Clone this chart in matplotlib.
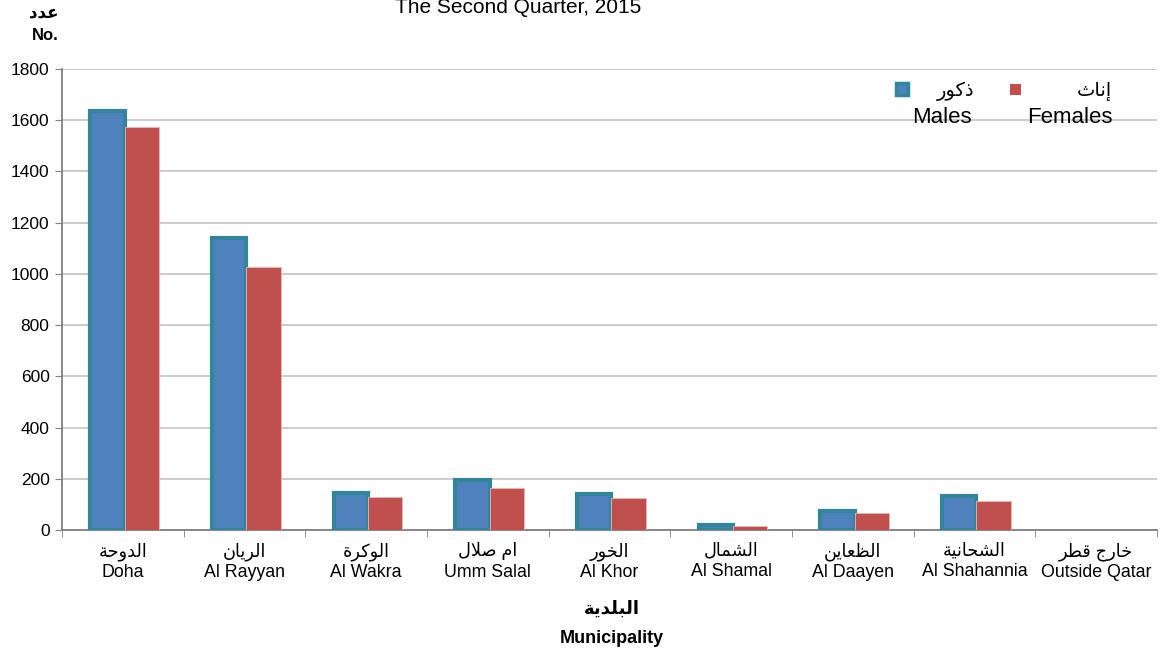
import matplotlib
matplotlib.use('Agg')
import matplotlib.pyplot as plt
from matplotlib.patches import Rectangle
import numpy as np

# data
areas_ar = ['الدوحة', 'الريان', 'الوكرة', 'ام صلال', 'الخور', 'الشمال', 'الظعاين', 'الشحانية', 'خارج قطر']
areas_en = ['Doha', 'Al Rayyan', 'Al Wakra', 'Umm Salal', 'Al Khor', 'Al Shamal', 'Al Daayen', 'Al Shahannia', 'Outside Qatar']
males = [1635, 1140, 146, 195, 140, 20, 76, 133, 0]
females = [1575, 1028, 130, 162, 124, 16, 66, 114, 0]
yticks = [0, 200, 400, 600, 800, 1000, 1200, 1400, 1600, 1800]

# matplotlib has no arabic shaping, so pick presentation forms by hand
DUAL = {'ب': 0xFE8F, 'ت': 0xFE95, 'ث': 0xFE99, 'ج': 0xFE9D, 'ح': 0xFEA1, 'خ': 0xFEA5,
        'س': 0xFEB1, 'ش': 0xFEB5, 'ص': 0xFEB9, 'ض': 0xFEBD, 'ط': 0xFEC1, 'ظ': 0xFEC5,
        'ع': 0xFEC9, 'غ': 0xFECD, 'ف': 0xFED1, 'ق': 0xFED5, 'ك': 0xFED9, 'ل': 0xFEDD,
        'م': 0xFEE1, 'ن': 0xFEE5, 'ه': 0xFEE9, 'ي': 0xFEF1}
RIGHT = {'ا': 0xFE8D, 'إ': 0xFE87, 'ة': 0xFE93, 'د': 0xFEA9, 'ذ': 0xFEAB, 'ر': 0xFEAD,
         'ز': 0xFEAF, 'و': 0xFEED}
LAMALEF = {'ا': 0xFEFB, 'إ': 0xFEF9}

def ar(s):
    out = []
    i = 0
    n = len(s)
    while i < n:
        c = s[i]
        if c not in DUAL and c not in RIGHT:
            out.append(c)
            i += 1
            continue
        prev = i > 0 and s[i - 1] in DUAL
        if c == 'ل' and i + 1 < n and s[i + 1] in LAMALEF:
            out.append(chr(LAMALEF[s[i + 1]] + (1 if prev else 0)))
            i += 2
            continue
        if c in RIGHT:
            code = RIGHT[c] + (1 if prev else 0)
        else:
            nxt = i + 1 < n and (s[i + 1] in DUAL or s[i + 1] in RIGHT)
            code = DUAL[c] + (3 if prev and nxt else 1 if prev else 2 if nxt else 0)
        out.append(chr(code))
        i += 1
    return ''.join(reversed(out))

FAM = ['Liberation Sans', 'DejaVu Sans']
plt.rcParams['font.family'] = FAM

fig = plt.figure(figsize=(11.62, 6.49), dpi=100)
ax = fig.add_axes([0.0534, 0.1834, 0.9423, 0.7103])

x = np.arange(len(males))
w = 0.283
off = 0.015
mlw = [3 if v > 0 else 0 for v in males]
ax.bar(x - w / 2 + off, males, w, color='#4F81BD', edgecolor='#31859C', linewidth=mlw, zorder=3)
ax.bar(x + w / 2 + off, females, w, color='#C0504D', edgecolor='#E6B9B8', linewidth=0.6, zorder=3)

ax.set_xlim(-0.5, len(males) - 0.5)
ax.set_ylim(0, 1800)
ax.set_yticks(yticks)
ax.set_yticklabels([str(v) for v in yticks], fontsize=12.5)
ax.yaxis.grid(True, color='#BFBFBF', linewidth=1.1, zorder=0)
ax.set_axisbelow(True)

ax.set_xticks(x)
ax.set_xticklabels([ar(a) + '\n' + e for a, e in zip(areas_ar, areas_en)],
                   fontsize=12.8, linespacing=1.25)
ax.set_xticks(np.arange(-0.5, len(males)), minor=True)
ax.tick_params(axis='x', which='major', length=0, pad=9)
ax.tick_params(axis='x', which='minor', length=5, color='#808080')
ax.tick_params(axis='y', length=5, color='#808080', pad=4)

for s in ['top', 'right']:
    ax.spines[s].set_visible(False)
for s in ['left', 'bottom']:
    ax.spines[s].set_color('#808080')
    ax.spines[s].set_linewidth(1.3)

# title near the top edge
fig.text(518 / 1162, 1 - 13 / 649, 'The Second Quarter, 2015', ha='center', va='baseline', fontsize=15)

# y axis caption
fig.text(44 / 1162, 1 - 17 / 649, ar('عدد'), ha='center', va='baseline', fontsize=12, fontweight='bold')
fig.text(45 / 1162, 1 - 40 / 649, 'No.', ha='center', va='baseline', fontsize=12, fontweight='bold')

# x axis caption
fig.text(612 / 1162, 1 - 614 / 649, ar('البلدية'), ha='center', va='baseline', fontsize=13, fontweight='bold')
fig.text(612 / 1162, 1 - 643 / 649, 'Municipality', ha='center', va='baseline', fontsize=13, fontweight='bold')

# legend drawn by hand: marker, arabic name, english below
fig.patches.append(Rectangle((896 / 1162, 1 - 95 / 649), 12 / 1162, 12 / 649, transform=fig.transFigure,
                             facecolor='#4F81BD', edgecolor='#31859C', linewidth=2.5))
fig.patches.append(Rectangle((1010 / 1162, 1 - 95 / 649), 11 / 1162, 11 / 649, transform=fig.transFigure,
                             facecolor='#C0504D', edgecolor='none'))
fig.text(974 / 1162, 1 - 96 / 649, ar('ذكور'), ha='right', va='baseline', fontsize=14)
fig.text(1112 / 1162, 1 - 96 / 649, ar('إناث'), ha='right', va='baseline', fontsize=14)
fig.text(942 / 1162, 1 - 123 / 649, 'Males', ha='center', va='baseline', fontsize=16)
fig.text(1070 / 1162, 1 - 123 / 649, 'Females', ha='center', va='baseline', fontsize=16)

fig.savefig('out.png', dpi=100)
